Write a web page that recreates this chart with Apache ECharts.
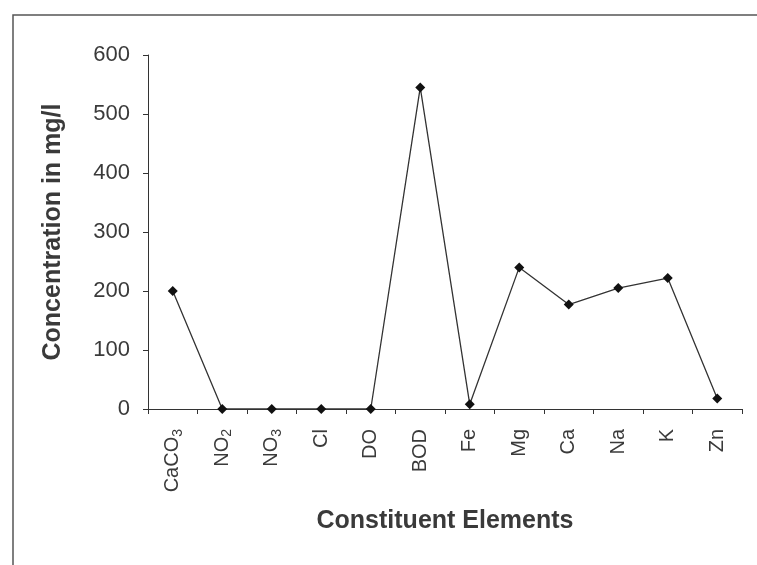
<!DOCTYPE html>
<html>
<head>
<meta charset="utf-8">
<script src="https://cdn.jsdelivr.net/npm/echarts@6/dist/echarts.min.js"></script>
<style>
  html, body { margin: 0; padding: 0; background: #fff; }
  #chart { width: 757px; height: 565px; }
</style>
</head>
<body>
<div id="chart"></div>
<script>
// categories and values
const categories = ['CaCO3', 'NO2', 'NO3', 'Cl', 'DO', 'BOD', 'Fe', 'Mg', 'Ca', 'Na', 'K', 'Zn'];
const concentration = [200, 0, 0, 0, 0, 545, 8, 240, 177, 205, 222, 18];
const yTicks = [0, 100, 200, 300, 400, 500, 600];

// labels that need a subscript digit
const subLabel = {
  CaCO3: '{n|CaCO}{s|3}',
  NO2: '{n|NO}{s|2}',
  NO3: '{n|NO}{s|3}'
};

const chart = echarts.init(document.getElementById('chart'));

const textColor = '#3a3a3a';
const lineColor = '#333';

chart.setOption({
  animation: false,
  backgroundColor: '#fff',
  graphic: [
    {
      type: 'rect',
      shape: { x: 13, y: 15, width: 760, height: 570 },
      style: { fill: 'none', stroke: '#555', lineWidth: 1.5 },
      silent: true
    }
  ],
  grid: { left: 148, right: 15, top: 55, bottom: 156 },
  xAxis: {
    type: 'category',
    data: categories,
    boundaryGap: true,
    name: 'Constituent Elements',
    nameLocation: 'middle',
    nameGap: 100,
    nameTextStyle: { fontFamily: 'Liberation Sans', fontSize: 25, fontWeight: 'bold', color: textColor },
    axisLine: { lineStyle: { color: lineColor, width: 1 } },
    axisTick: { show: true, length: 5, lineStyle: { color: lineColor } },
    axisLabel: {
      rotate: 90,
      margin: 20,
      interval: 0,
      fontFamily: 'Liberation Sans',
      fontSize: 20,
      color: textColor,
      formatter: v => subLabel[v] || '{n|' + v + '}',
      rich: {
        n: { fontFamily: 'Liberation Sans', fontSize: 20, color: textColor },
        s: { fontFamily: 'Liberation Sans', fontSize: 14, color: textColor, padding: [10, 0, 0, 0] }
      }
    },
    splitLine: { show: false }
  },
  yAxis: {
    type: 'value',
    min: 0,
    max: 600,
    interval: 100,
    name: 'Concentration in mg/l',
    nameLocation: 'middle',
    nameGap: 82,
    nameTextStyle: { fontFamily: 'Liberation Sans', fontSize: 25, fontWeight: 'bold', color: textColor },
    axisLine: { show: true, lineStyle: { color: lineColor, width: 1 } },
    axisTick: { show: true, length: 5, lineStyle: { color: lineColor } },
    axisLabel: {
      margin: 18,
      fontFamily: 'Liberation Sans',
      fontSize: 22,
      color: textColor,
      formatter: v => (yTicks.includes(v) ? String(v) : '')
    },
    splitLine: { show: false }
  },
  series: [
    {
      type: 'line',
      data: concentration,
      symbol: 'diamond',
      symbolSize: 10,
      itemStyle: { color: '#111' },
      lineStyle: { color: lineColor, width: 1.3 }
    }
  ]
});
</script>
</body>
</html>
